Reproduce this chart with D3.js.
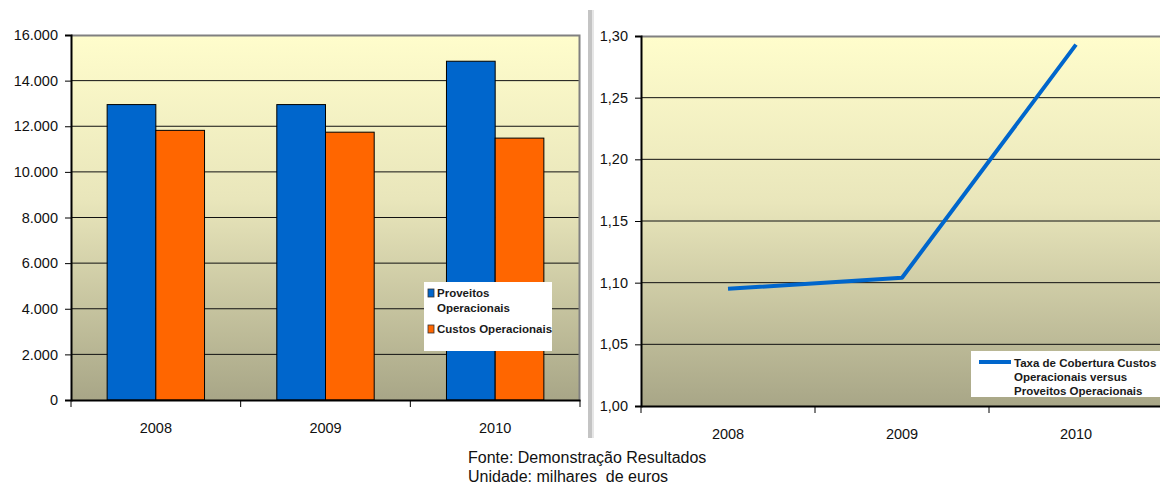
<!DOCTYPE html>
<html>
<head>
<meta charset="utf-8">
<script src="https://cdn.jsdelivr.net/npm/d3@7/dist/d3.min.js"></script>
<style>
  html, body { margin: 0; padding: 0; background: #ffffff; }
  svg { display: block; font-family: Arial, "Liberation Sans", sans-serif; }
</style>
</head>
<body>
<svg id="chart" width="1160" height="484"></svg>
<script>
// Operational revenue and costs (thousand euros), and the coverage ratio
const categories = ["2008", "2009", "2010"];
const proveitos = [12950, 12950, 14850];
const custos = [11820, 11740, 11480];
const taxa = [1.095, 1.104, 1.293];

const barTicks = [0, 2000, 4000, 6000, 8000, 10000, 12000, 14000, 16000];
const lineTicks = [1.00, 1.05, 1.10, 1.15, 1.20, 1.25, 1.30];

const seriesNames = ["Proveitos Operacionais", "Custos Operacionais"];
const seriesColors = ["#0066CC", "#FF6600"];
const lineName = ["Taxa de Cobertura Custos", "Operacionais versus", "Proveitos Operacionais"];
const footer = ["Fonte: Demonstração Resultados", "Unidade: milhares  de euros"];

const FONT = "Arial, 'Liberation Sans', sans-serif";
const TICK_SIZE = 14.5;

const svg = d3.select("#chart");
const defs = svg.append("defs");
const grad = defs.append("linearGradient")
  .attr("id", "plotFill").attr("x1", 0).attr("y1", 0).attr("x2", 0).attr("y2", 1);
grad.append("stop").attr("offset", "0%").attr("stop-color", "#fffdcc");
grad.append("stop").attr("offset", "45%").attr("stop-color", "#e9e6bb");
grad.append("stop").attr("offset", "100%").attr("stop-color", "#a8a687");

const locale = d3.formatLocale({ decimal: ",", thousands: ".", grouping: [3], currency: ["", "€"] });
const fmtBar = locale.format(",.0f");
const fmtLine = locale.format(".2f");

function styleTicks(sel) {
  sel.selectAll(".tick text").attr("font-size", TICK_SIZE).attr("fill", "#111").attr("font-family", FONT);
}

// ---------- Left: grouped bars ----------
const L = { left: 71, right: 580, top: 35, bottom: 400 };
const xL = d3.scaleBand().domain(categories).range([L.left, L.right]).paddingInner(0).paddingOuter(0);
const yL = d3.scaleLinear().domain([0, 16000]).range([L.bottom, L.top]);
const x1 = d3.scaleBand().domain([0, 1])
  .range([xL.bandwidth() * 0.213, xL.bandwidth() * 0.787]).padding(0);

const gL = svg.append("g");
gL.append("rect").attr("x", L.left).attr("y", L.top)
  .attr("width", L.right - L.left).attr("height", L.bottom - L.top)
  .attr("fill", "url(#plotFill)");

// gridlines
gL.append("g").selectAll("line").data(barTicks.filter(t => t > 0 && t < 16000)).join("line")
  .attr("x1", L.left).attr("x2", L.right)
  .attr("y1", d => yL(d)).attr("y2", d => yL(d))
  .attr("stroke", "#111").attr("stroke-width", 1);
// frame top / right
gL.append("path")
  .attr("d", `M${L.left},${L.top + 0.5}H${L.right - 0.5}V${L.bottom}`)
  .attr("fill", "none").attr("stroke", "#808080").attr("stroke-width", 2);

// bars
const barData = [];
categories.forEach((c, i) => {
  barData.push({ cat: c, s: 0, v: proveitos[i] });
  barData.push({ cat: c, s: 1, v: custos[i] });
});
gL.append("g").selectAll("rect").data(barData).join("rect")
  .attr("x", d => xL(d.cat) + x1(d.s))
  .attr("width", x1.bandwidth())
  .attr("y", d => yL(d.v))
  .attr("height", d => yL(0) - yL(d.v))
  .attr("fill", d => seriesColors[d.s])
  .attr("stroke", "#000").attr("stroke-width", 1);

// y axis
const yAxisL = d3.axisLeft(yL).tickValues(barTicks).tickFormat(fmtBar).tickSize(6).tickPadding(7);
const ayL = gL.append("g").attr("transform", `translate(${L.left},0)`).call(yAxisL);
ayL.select(".domain").attr("stroke", "#000").attr("stroke-width", 2);
ayL.selectAll(".tick line").attr("stroke", "#000");
styleTicks(ayL);

// x axis
const xAxisL = d3.axisBottom(xL).tickSize(0).tickPadding(23);
const axL = gL.append("g").attr("transform", `translate(0,${L.bottom})`).call(xAxisL);
axL.select(".domain").attr("stroke", "#000").attr("stroke-width", 2);
styleTicks(axL);
axL.append("g").selectAll("line").data(categories.concat(["end"])).join("line")
  .attr("x1", (d, i) => i < categories.length ? xL(d) : L.right)
  .attr("x2", (d, i) => i < categories.length ? xL(d) : L.right)
  .attr("y1", 0).attr("y2", 7).attr("stroke", "#000");

// legend
const lgL = gL.append("g").attr("transform", "translate(424,282)");
lgL.append("rect").attr("width", 128).attr("height", 69).attr("fill", "#fff");
const legLines = [[seriesNames[0].split(" ")[0], seriesNames[0].split(" ")[1]], [seriesNames[1]]];
const legY = [15, 51];
legLines.forEach((lines, i) => {
  lgL.append("rect").attr("x", 4).attr("y", legY[i] - 8).attr("width", 6).attr("height", 8)
    .attr("fill", seriesColors[i]).attr("stroke", "#333").attr("stroke-width", 0.8);
  lines.forEach((t, j) => {
    lgL.append("text").attr("x", 13).attr("y", legY[i] + j * 15)
      .attr("font-size", 11.5).attr("font-weight", "bold").attr("fill", "#1a1a1a").text(t);
  });
});

// ---------- Separator ----------
svg.append("line").attr("x1", 590).attr("x2", 590).attr("y1", 10).attr("y2", 438)
  .attr("stroke", "#c4c4c4").attr("stroke-width", 4);
svg.append("line").attr("x1", 593).attr("x2", 593).attr("y1", 10).attr("y2", 438)
  .attr("stroke", "#e6e6e6").attr("stroke-width", 2);

// ---------- Right: coverage ratio line ----------
const R = { left: 641, right: 1163, top: 36, bottom: 406 };
const xR = d3.scaleBand().domain(categories).range([R.left, R.right]).padding(0);
const yR = d3.scaleLinear().domain([1.00, 1.30]).range([R.bottom, R.top]);

const gR = svg.append("g");
gR.append("rect").attr("x", R.left).attr("y", R.top)
  .attr("width", R.right - R.left).attr("height", R.bottom - R.top)
  .attr("fill", "url(#plotFill)");
gR.append("g").selectAll("line").data(lineTicks.filter(t => t > 1.0001 && t < 1.2999)).join("line")
  .attr("x1", R.left).attr("x2", R.right)
  .attr("y1", d => yR(d)).attr("y2", d => yR(d))
  .attr("stroke", "#111").attr("stroke-width", 1);
gR.append("line").attr("x1", R.left).attr("x2", R.right)
  .attr("y1", R.top + 0.5).attr("y2", R.top + 0.5)
  .attr("stroke", "#808080").attr("stroke-width", 2);

const line = d3.line().x((d, i) => xR(categories[i]) + xR.bandwidth() / 2).y(d => yR(d));
gR.append("path").datum(taxa).attr("d", line)
  .attr("fill", "none").attr("stroke", "#0066CC").attr("stroke-width", 4)
  .attr("stroke-linejoin", "round");

const yAxisR = d3.axisLeft(yR).tickValues(lineTicks).tickFormat(fmtLine).tickSize(6).tickPadding(7);
const ayR = gR.append("g").attr("transform", `translate(${R.left},0)`).call(yAxisR);
ayR.select(".domain").attr("stroke", "#000").attr("stroke-width", 2);
ayR.selectAll(".tick line").attr("stroke", "#000");
styleTicks(ayR);

const xAxisR = d3.axisBottom(xR).tickSize(0).tickPadding(23);
const axR = gR.append("g").attr("transform", `translate(0,${R.bottom})`).call(xAxisR);
axR.select(".domain").attr("stroke", "#000").attr("stroke-width", 2);
styleTicks(axR);
axR.append("g").selectAll("line").data(categories).join("line")
  .attr("x1", d => xR(d)).attr("x2", d => xR(d))
  .attr("y1", 0).attr("y2", 7).attr("stroke", "#000");

// legend
const lgR = gR.append("g").attr("transform", "translate(971,351)");
lgR.append("rect").attr("width", 189).attr("height", 46).attr("fill", "#fff");
lgR.append("line").attr("x1", 8).attr("x2", 40).attr("y1", 11).attr("y2", 11)
  .attr("stroke", "#0066CC").attr("stroke-width", 4);
lineName.forEach((t, j) => {
  lgR.append("text").attr("x", 43).attr("y", 16 + j * 14)
    .attr("font-size", 11.5).attr("font-weight", "bold").attr("fill", "#1a1a1a").text(t);
});

// ---------- Footer ----------
footer.forEach((t, i) => {
  svg.append("text").attr("x", 468).attr("y", 463 + i * 19)
    .attr("font-size", 16).attr("fill", "#111").attr("xml:space", "preserve")
    .style("white-space", "pre").text(t);
});
</script>
</body>
</html>
